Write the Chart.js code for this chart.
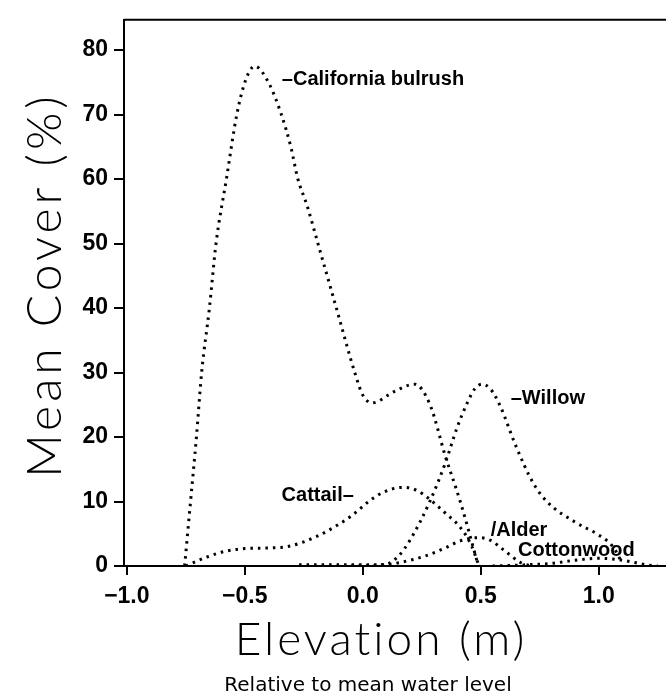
<!DOCTYPE html>
<html>
<head>
<meta charset="utf-8">
<script src="https://cdn.jsdelivr.net/npm/chart.js@4"></script>
<style>
  body { margin: 0; background: #fff; }
  #wrap { width: 666px; height: 694px; }
</style>
</head>
<body>
<div id="wrap"><canvas id="chart"></canvas></div>
<script>
// elevation (m) / mean cover (%)
const bulrushX = [-0.755, -0.73, -0.705, -0.683, -0.65, -0.622, -0.578, -0.534, -0.495, -0.458, -0.4, -0.345, -0.305, -0.275, -0.237, -0.19, -0.112, -0.034, 0.0, 0.04, 0.13, 0.22, 0.285, 0.35, 0.413, 0.49];
const bulrushY = [0, 10, 20, 30, 40, 50, 60, 70, 75.5, 77.5, 75, 70, 65, 60, 56, 50, 40, 30, 26.5, 25.3, 27, 28.2, 25, 17, 10, 0];

const willowX = [-0.05, 0.1, 0.15, 0.2, 0.284, 0.35, 0.4, 0.444, 0.475, 0.505, 0.54, 0.58, 0.65, 0.72, 0.78, 0.9, 1.0, 1.06, 1.1];
const willowY = [0, 0.3, 1.5, 4, 10, 16, 21.5, 25.4, 27.5, 28.2, 27.5, 25, 18.5, 13, 10, 6.8, 4.8, 3, 0.4];

const cattailX = [-0.75, -0.66, -0.58, -0.5, -0.4, -0.32, -0.2, -0.1, -0.047, 0.047, 0.12, 0.176, 0.23, 0.275, 0.35, 0.413, 0.46, 0.49];
const cattailY = [0, 1.4, 2.3, 2.7, 2.8, 3.0, 4.5, 6.5, 7.8, 10.6, 11.9, 12.2, 11.7, 10.6, 8.2, 6, 3.2, 0.3];

const alderX = [-0.27, 0.1, 0.152, 0.26, 0.35, 0.413, 0.49, 0.54, 0.6, 0.67, 0.72];
const alderY = [0.2, 0.2, 0.5, 1.5, 2.8, 3.9, 4.4, 4, 2.4, 0.5, 0];

const cottonwoodX = [0.55, 0.7, 0.8, 0.9, 1.0, 1.1, 1.2, 1.25];
const cottonwoodY = [0, 0.2, 0.4, 0.9, 1.2, 0.9, 0.2, 0];

const xTicks = [-1.0, -0.5, 0.0, 0.5, 1.0];
const yTicks = [0, 10, 20, 30, 40, 50, 60, 70, 80];

const labelTexts = ['\u2013California bulrush', '\u2013Willow', 'Cattail\u2013', '/Alder', 'Cottonwood'];
const labelX = [-0.343, 0.627, -0.038, 0.542, 0.658];
const labelY = [75.5, 26, 10.9, 5.5, 2.4];
const labelAlign = ['left', 'left', 'right', 'left', 'left'];

function pairs(xs, ys) {
  return xs.map((x, i) => ({x: x, y: ys[i]}));
}

function curve(xs, ys) {
  return {
    data: pairs(xs, ys),
    borderColor: '#000',
    borderWidth: 3,
    borderDash: [2.5, 5],
    pointRadius: 0,
    fill: false,
    cubicInterpolationMode: 'monotone'
  };
}

const textPlugin = {
  id: 'texts',
  afterDraw(chart) {
    const ctx = chart.ctx;
    const xs = chart.scales.x, ys = chart.scales.y;
    const area = chart.chartArea;
    ctx.save();
    // top frame line
    ctx.strokeStyle = '#000';
    ctx.lineWidth = 2;
    ctx.beginPath();
    ctx.moveTo(area.left, area.top);
    ctx.lineTo(area.right, area.top);
    ctx.stroke();

    ctx.fillStyle = '#000';
    ctx.font = 'bold 20px "Liberation Sans"';
    ctx.textBaseline = 'middle';
    for (let i = 0; i < labelTexts.length; i++) {
      ctx.textAlign = labelAlign[i];
      ctx.fillText(labelTexts[i], xs.getPixelForValue(labelX[i]), ys.getPixelForValue(labelY[i]));
    }

    ctx.textAlign = 'center';
    ctx.textBaseline = 'alphabetic';
    ctx.letterSpacing = '3px';
    ctx.font = '300 46px Lato';
    ctx.fillText('Elevation (m)', 381, 655);
    ctx.letterSpacing = '0px';
    ctx.font = '20px "DejaVu Sans"';
    ctx.fillText('Relative to mean water level', 368, 691);

    ctx.translate(46, 285);
    ctx.rotate(-Math.PI / 2);
    ctx.textBaseline = 'middle';
    ctx.letterSpacing = '4px';
    ctx.font = '300 48px Lato';
    ctx.fillText('Mean Cover (%)', 0, 0);
    ctx.restore();
  }
};

const tickFont = {family: 'Liberation Sans', size: 23, weight: 'bold'};

new Chart(document.getElementById('chart'), {
  type: 'line',
  data: {
    datasets: [
      curve(bulrushX, bulrushY),
      curve(willowX, willowY),
      curve(cattailX, cattailY),
      curve(alderX, alderY),
      curve(cottonwoodX, cottonwoodY)
    ]
  },
  options: {
    responsive: true,
    maintainAspectRatio: false,
    animation: false,
    layout: {padding: {top: 12, right: 0, left: 0, bottom: 0}},
    plugins: {legend: {display: false}, tooltip: {enabled: false}},
    scales: {
      x: {
        type: 'linear',
        min: -1.012,
        max: 1.285,
        afterBuildTicks: s => { s.ticks = xTicks.map(v => ({value: v})); },
        afterFit: s => { s.height = 128; },
        grid: {drawOnChartArea: false, drawTicks: true, tickLength: 9, color: '#000', lineWidth: 2},
        border: {color: '#000', width: 2},
        ticks: {
          color: '#000', font: tickFont, padding: 8, maxRotation: 0,
          callback: v => v.toFixed(1).replace('-', '\u2212')
        }
      },
      y: {
        min: 0,
        max: 84.7,
        afterBuildTicks: s => { s.ticks = yTicks.map(v => ({value: v})); },
        afterFit: s => { s.width = 124; },
        grid: {drawOnChartArea: false, drawTicks: true, tickLength: 10, color: '#000', lineWidth: 2},
        border: {color: '#000', width: 2},
        ticks: {color: '#000', font: tickFont, padding: 6}
      }
    }
  },
  plugins: [textPlugin]
});
</script>
</body>
</html>
